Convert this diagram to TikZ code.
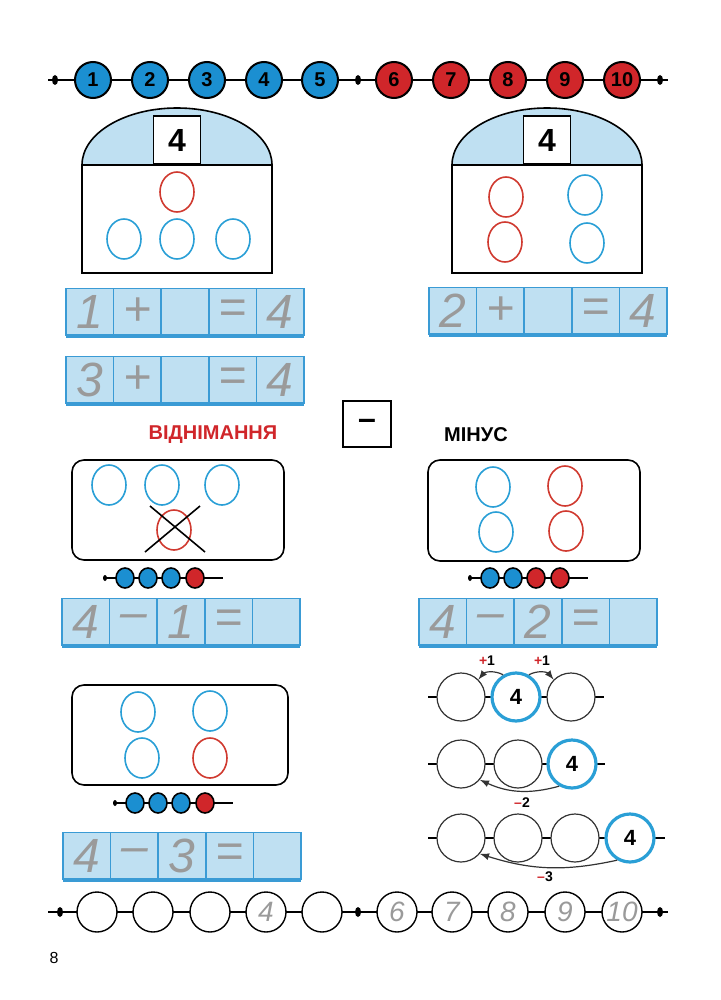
\documentclass[tikz,border=0pt]{standalone}
\usepackage{fontspec}
\setmainfont{Liberation Sans}
\usetikzlibrary{shapes.geometric}
\definecolor{bblue}{HTML}{1B8FD1}
\definecolor{bred}{HTML}{D0262A}
\definecolor{lblue}{HTML}{BFE0F2}
\definecolor{sblue}{HTML}{3A9BD5}
\definecolor{cblue}{HTML}{2A9FD6}
\definecolor{cred}{HTML}{D03A30}
\definecolor{hand}{HTML}{9A9A9A}
\tikzset{
 bead/.style={circle,draw=black,line width=1pt,minimum size=18pt,inner sep=0pt,font=\bfseries\fontsize{10}{10}\selectfont},
 sbead/.style={ellipse,draw=black,line width=0.8pt,minimum width=9pt,minimum height=10pt,inner sep=0pt},
 dot/.style={ellipse,fill=black,minimum width=3pt,minimum height=5pt,inner sep=0pt},
 ring/.style={ellipse,draw,line width=0.8pt,minimum width=17pt,minimum height=20pt,inner sep=0pt},
 cell/.style={rectangle,draw=sblue,fill=lblue,line width=0.8pt,minimum width=23.8pt,minimum height=23.5pt,inner sep=0pt,font=\fontsize{24}{24}\selectfont\itshape,text=hand},
 nl/.style={circle,draw=black!80,line width=0.6pt,minimum size=24pt,inner sep=0pt,fill=white},
 nlb/.style={circle,draw=cblue,line width=1.6pt,minimum size=24pt,inner sep=0pt,fill=white,font=\bfseries\fontsize{11}{11}\selectfont},
 bc/.style={circle,draw=black,line width=0.7pt,minimum size=20pt,inner sep=0pt,fill=white,font=\fontsize{14}{14}\selectfont\itshape,text=hand},
 panel/.style={draw=black,line width=0.8pt,rounded corners=6pt},
 lbl/.style={font=\bfseries\fontsize{7}{7}\selectfont},
 arr/.style={-latex,line width=0.6pt,draw=black!80}
}
\begin{document}
\begin{tikzpicture}[x=0.5pt,y=-0.5pt]
\useasboundingbox (0,0) rectangle (720,1000);
% top bead line
\draw[line width=0.8pt] (48,80) -- (668,80);
\foreach \x/\n in {93/1,150/2,207/3,264/4,320/5} \node[bead,fill=bblue] (tb\n) at (\x,80) {\n};
\foreach \x/\n in {394/6,451/7,508/8,565/9,622/10} \node[bead,fill=bred] (tb\n) at (\x,80) {\n};
\foreach \x/\i in {55/1,358/2,660/3} \node[dot] (td\i) at (\x,80) {};
% houses
\foreach \cx/\h in {177/L,547/R}{
 \fill[lblue] (\cx-95,165) arc[start angle=180,end angle=360,x radius=95,y radius=57] -- cycle;
 \draw[line width=0.8pt] (\cx-95,273) -- (\cx-95,165) arc[start angle=180,end angle=360,x radius=95,y radius=57] -- (\cx+95,273) -- cycle;
 \draw[line width=0.8pt] (\cx-95,165) -- (\cx+95,165);
 \node[draw=black,fill=white,line width=0.8pt,minimum width=23.5pt,minimum height=24pt,inner sep=0pt,anchor=south,font=\bfseries\fontsize{16}{16}\selectfont] (num\h) at (\cx,165) {4};
}
\node[ring,draw=cred] (h1a) at (177,192) {};
\foreach \x/\i in {124/b,177/c,233/d} \node[ring,draw=cblue] (h1\i) at (\x,239) {};
\node[ring,draw=cred] (h2a) at (506,197) {};
\node[ring,draw=cred] (h2b) at (505,242) {};
\node[ring,draw=cblue] (h2c) at (585,195) {};
\node[ring,draw=cblue] (h2d) at (587,243) {};
% equation strips
\newcommand{\strip}[7]{%
 \foreach \t [count=\k from 0] in {#4,#5,#6,#7,{}}{
  \node[cell] (#3\k) at (#1+23.8+\k*47.6,#2) {\t};}
 \draw[sblue,line width=2pt] (#1,#2+23.5) -- (#1+238,#2+23.5);}
\strip{66}{312}{ea}{1}{+}{}{=}
\node[cell] (ea4b) at (66+23.8+4*47.6,312) {4};
\draw[sblue,line width=2pt] (66,335.5) -- (304,335.5);
\strip{429}{311}{eb}{2}{+}{}{=}
\node[cell] (eb4b) at (429+23.8+4*47.6,311) {4};
\draw[sblue,line width=2pt] (429,334.5) -- (667,334.5);
\strip{66}{380}{ec}{3}{+}{}{=}
\node[cell] (ec4b) at (66+23.8+4*47.6,380) {4};
\draw[sblue,line width=2pt] (66,403.5) -- (304,403.5);
\strip{62}{622}{ed}{4}{–}{1}{=}
\strip{419}{622}{ee}{4}{–}{2}{=}
\strip{63}{856}{ef}{4}{–}{3}{=}
% title row
\node[font=\bfseries\fontsize{10}{10}\selectfont,text=bred] (vid) at (213,435) {ВІДНІМАННЯ};
\node[draw=black,line width=0.8pt,minimum width=24pt,minimum height=23pt,inner sep=0pt,font=\bfseries\fontsize{16}{16}\selectfont] (minus) at (367,424) {–};
\node[font=\bfseries\fontsize{10}{10}\selectfont] (min) at (476,435) {МІНУС};
% panels
\draw[panel] (72,460) rectangle (284,560);
\foreach \x/\i in {109/a,162/b,222/c} \node[ring,draw=cblue] (p1\i) at (\x,485) {};
\node[ring,draw=cred] (p1d) at (174,530) {};
\draw[line width=0.8pt] (150,506) -- (205,552) (200,506) -- (145,552);
\draw[panel] (428,460) rectangle (640,561);
\node[ring,draw=cblue] (p2a) at (493,487) {};
\node[ring,draw=cblue] (p2b) at (496,532) {};
\node[ring,draw=cred] (p2c) at (565,486) {};
\node[ring,draw=cred] (p2d) at (566,531) {};
\draw[panel] (72,685) rectangle (288,785);
\node[ring,draw=cblue] (p3a) at (138,712) {};
\node[ring,draw=cblue] (p3b) at (210,711) {};
\node[ring,draw=cblue] (p3c) at (142,758) {};
\node[ring,draw=cred] (p3d) at (210,758) {};
% small bead lines
\newcommand{\sbl}[8]{%
 \draw[line width=0.7pt] (#1,#2) -- (#1+120,#2);
 \node[dot,minimum width=2pt,minimum height=3pt] at (#1+2,#2) {};
 \node[sbead,fill=#5] (#3a) at (#1+22,#2) {};
 \node[sbead,fill=#6] (#3b) at (#1+45,#2) {};
 \node[sbead,fill=#7] (#3c) at (#1+68,#2) {};
 \node[sbead,fill=#8] (#3d) at (#1+92,#2) {};}
\sbl{103}{578}{sa}{}{bblue}{bblue}{bblue}{bred}
\sbl{468}{578}{sb}{}{bblue}{bblue}{bred}{bred}
\sbl{113}{803}{sc}{}{bblue}{bblue}{bblue}{bred}
% number lines
\draw[line width=0.6pt] (428,697) -- (604,697);
\node[nl] (r1a) at (461,697) {};
\node[nlb] (r1b) at (516,697) {4};
\node[nl] (r1c) at (571,697) {};
\draw[arr] (r1b.120) to[bend right=40] (r1a.45);
\draw[arr] (r1b.60) to[bend left=40] (r1c.135);
\node[lbl] (l1) at (487,661) {\textcolor{bred}{+}1};
\node[lbl] (l2) at (542,661) {\textcolor{bred}{+}1};
\draw[line width=0.6pt] (428,764) -- (605,764);
\node[nl] (r2a) at (461,764) {};
\node[nl] (r2b) at (518,764) {};
\node[nlb] (r2c) at (572,764) {4};
\draw[arr] (r2c.240) to[bend left=20] (r2a.-40);
\node[lbl] (l3) at (522,803) {\textcolor{bred}{–}2};
\draw[line width=0.6pt] (428,838) -- (665,838);
\node[nl] (r3a) at (461,838) {};
\node[nl] (r3b) at (518,838) {};
\node[nl] (r3c) at (575,838) {};
\node[nlb] (r3d) at (630,838) {4};
\draw[arr] (r3d.240) to[bend left=15] (r3a.-40);
\node[lbl] (l4) at (545,877) {\textcolor{bred}{–}3};
% bottom line
\draw[line width=0.8pt] (48,912) -- (668,912);
\foreach \x/\i in {60/1,358/2,660/3} \node[dot] (bd\i) at (\x,912) {};
\foreach \x/\t [count=\k] in {97/{},153/{},210/{},266/4,322/{},397/6,452/7,508/8,565/9,622/10}
 \node[bc] (bc\k) at (\x,912) {\t};
\node[font=\fontsize{8}{8}\selectfont] (pg) at (54,958) {8};
\end{tikzpicture}
\end{document}
